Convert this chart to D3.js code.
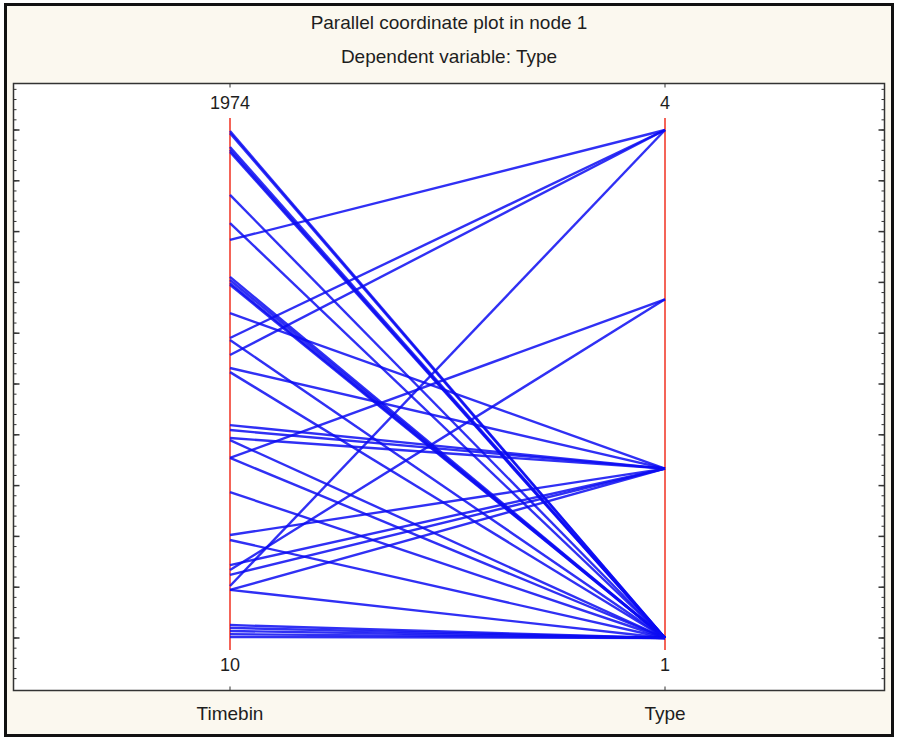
<!DOCTYPE html>
<html>
<head>
<meta charset="utf-8">
<script src="https://cdn.jsdelivr.net/npm/d3@7/dist/d3.min.js"></script>
<style>
  html, body { margin: 0; padding: 0; background: #ffffff; }
  svg { display: block; }
  text { font-family: "Liberation Sans", Arial, sans-serif; fill: #1e1e1e; }
</style>
</head>
<body>
<svg id="chart" width="899" height="740"></svg>
<script>
// Chart titles
const titleLines = ["Parallel coordinate plot in node 1", "Dependent variable: Type"];

// Parallel axes and their end labels
const axisNames = ["Timebin", "Type"];
const timebinDomain = [10, 1974];
const typeDomain = [1, 4];
const timebinTickLabels = ["1974", "10"];
const typeTickLabels = ["4", "1"];

// One record per case: Timebin value on the left axis, Type on the right axis
const timebin = [1970, 1962, 1908, 1897, 1889, 1723, 1614, 1549, 1406, 1394, 1382, 1375,
                 1266, 1170, 1162, 1104, 1054, 1038, 833, 814, 783, 775, 706, 706,
                 574, 408, 389, 292, 273, 254, 211, 196, 196, 60, 49, 37, 25, 14];
const type    = [1, 1, 1, 1, 1, 1, 1, 4, 1, 1, 1, 1,
                 2, 4, 1, 4, 2, 1, 2, 2, 2, 1, 3, 1,
                 1, 2, 1, 2, 3, 2, 4, 2, 1, 1, 1, 1, 1, 1];

const svg = d3.select("#chart");

// Outer panel
svg.append("rect").attr("x", 5.5).attr("y", 4.5).attr("width", 887).attr("height", 731)
  .attr("fill", "#fbf8ef").attr("stroke", "#111").attr("stroke-width", 3);

// Plot frame
const frame = { left: 13.5, top: 83.5, right: 884.5, bottom: 690.5 };
svg.append("rect").attr("x", frame.left).attr("y", frame.top)
  .attr("width", frame.right - frame.left).attr("height", frame.bottom - frame.top)
  .attr("fill", "#ffffff").attr("stroke", "#333").attr("stroke-width", 1.5);

// Titles
svg.selectAll("text.title").data(titleLines).join("text")
  .attr("class", "title")
  .attr("x", 449).attr("y", (d, i) => 29 + i * 34)
  .attr("text-anchor", "middle").attr("font-size", 19)
  .text(d => d);

// Scales
const x = d3.scalePoint().domain(axisNames).range([230, 665]);
const yTime = d3.scaleLinear().domain(timebinDomain).range([638, 130]);
const yType = d3.scaleLinear().domain(typeDomain).range([638, 130]);

// Frame ticks along left and right edges
const majorY = d3.range(0, 11).map(i => yTime(timebinDomain[0] + i * (timebinDomain[1] - timebinDomain[0]) / 10));
const step = (yTime.range()[0] - yTime.range()[1]) / 50;
const minorY = d3.range(-6, 56).map(i => yTime.range()[0] - i * step)
  .filter(v => v > frame.top + 2 && v < frame.bottom - 2);
const tickG = svg.append("g").attr("stroke", "#333").attr("stroke-width", 1);
tickG.selectAll("line.minL").data(minorY).join("line")
  .attr("x1", frame.left).attr("x2", frame.left + 3).attr("y1", d => d).attr("y2", d => d);
tickG.selectAll("line.minR").data(minorY).join("line")
  .attr("x1", frame.right).attr("x2", frame.right - 3).attr("y1", d => d).attr("y2", d => d);
tickG.selectAll("line.majL").data(majorY).join("line")
  .attr("x1", frame.left).attr("x2", frame.left + 6).attr("y1", d => d).attr("y2", d => d)
  .attr("stroke-width", 1.5);
tickG.selectAll("line.majR").data(majorY).join("line")
  .attr("x1", frame.right).attr("x2", frame.right - 6).attr("y1", d => d).attr("y2", d => d)
  .attr("stroke-width", 1.5);
// ticks where the parallel axes meet the frame
axisNames.forEach(n => {
  tickG.append("line").attr("x1", x(n)).attr("x2", x(n)).attr("y1", frame.top).attr("y2", frame.top + 4);
  tickG.append("line").attr("x1", x(n)).attr("x2", x(n)).attr("y1", frame.bottom).attr("y2", frame.bottom - 4);
});

// Parallel axes (red)
axisNames.forEach(n => {
  svg.append("line").attr("x1", x(n)).attr("x2", x(n)).attr("y1", 118).attr("y2", 650)
    .attr("stroke", "#f03020").attr("stroke-width", 1.5);
});

// Polylines, one per case
const rows = timebin.map((t, i) => ({ t, c: type[i] }));
const line = d3.line();
svg.append("g").selectAll("path").data(rows).join("path")
  .attr("d", d => line([[x("Timebin"), yTime(d.t)], [x("Type"), yType(d.c)]]))
  .attr("fill", "none").attr("stroke", "#0c0cf2").attr("stroke-width", 2.4)
  .attr("stroke-opacity", 0.85);

// Axis end labels
const endLabels = [
  { axis: "Timebin", top: timebinTickLabels[0], bottom: timebinTickLabels[1] },
  { axis: "Type", top: typeTickLabels[0], bottom: typeTickLabels[1] }
];
endLabels.forEach(e => {
  svg.append("text").attr("x", x(e.axis)).attr("y", 109).attr("text-anchor", "middle")
    .attr("font-size", 18).text(e.top);
  svg.append("text").attr("x", x(e.axis)).attr("y", 671).attr("text-anchor", "middle")
    .attr("font-size", 18).text(e.bottom);
});

// Axis names under the frame
svg.selectAll("text.axname").data(axisNames).join("text")
  .attr("class", "axname")
  .attr("x", d => x(d)).attr("y", 720).attr("text-anchor", "middle")
  .attr("font-size", 19).text(d => d);
</script>
</body>
</html>
